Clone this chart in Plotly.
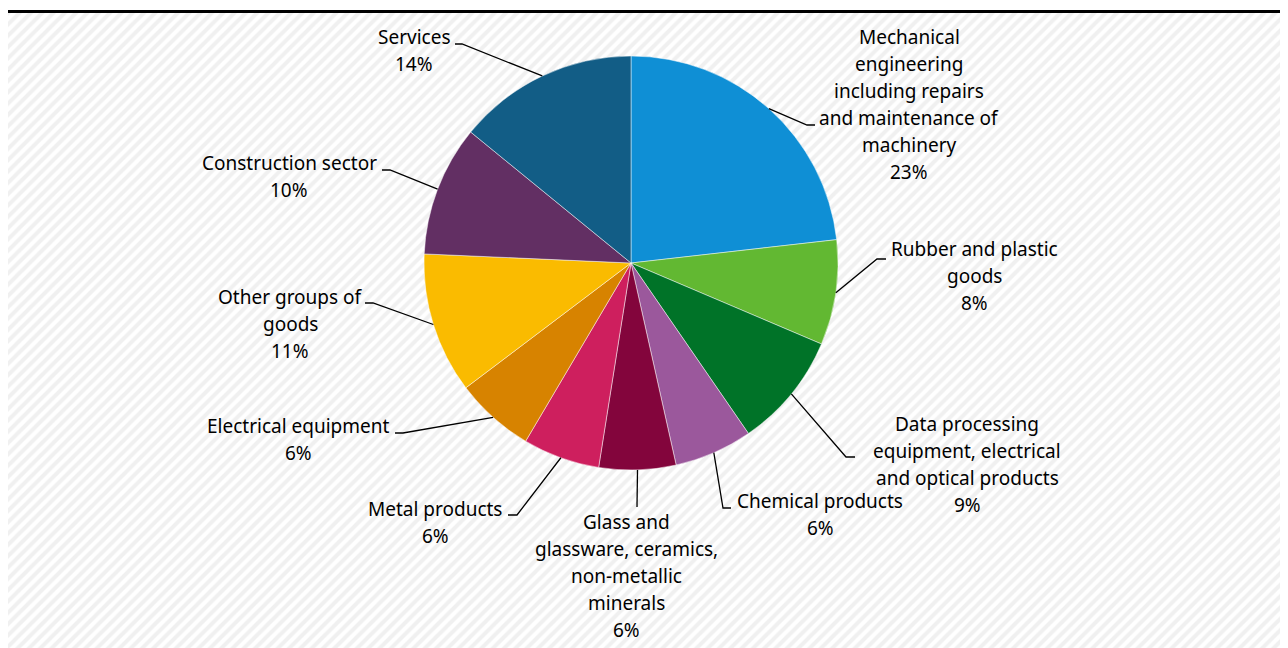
import math
import plotly.graph_objects as go

# ---------------- data ----------------
categories = [
    ["Mechanical", "engineering", "including repairs", "and maintenance of", "machinery"],
    ["Rubber and plastic", "goods"],
    ["Data processing", "equipment, electrical", "and optical products"],
    ["Chemical products"],
    ["Glass and", "glassware, ceramics,", "non-metallic", "minerals"],
    ["Metal products"],
    ["Electrical equipment"],
    ["Other groups of", "goods"],
    ["Construction sector"],
    ["Services"],
]
shares = [23.2, 8.2, 9.0, 6.1, 6.0, 6.0, 6.2, 11.0, 10.2, 14.1]
colors = ["#0f8fd5", "#62b832", "#007328", "#9b589c", "#83053c",
          "#ce1f5e", "#d78300", "#fabb00", "#622f63", "#125d86"]

# ---------------- layout constants (screen pixels) ----------------
OFF = 8                     # page body margin
W, H = 1280, 640            # figure size
CX, CY, R = 631, 263, 207   # pie centre / radius on screen
FONT = "Noto Sans"
FS = 19
LINE = 27                   # label line spacing

# label layout: (elbow_x, elbow_y, end_x, end_y, text_center_x, first_line_center_y)
label_layout = [
    (807, 125, 815, 125, 909, 37),
    (877, 259, 886, 259, 974, 249),
    (846, 457, 855, 457, 967, 424),
    (723, 508, 731, 508, 820, 501),
    (637, 507, 637, 507, 626, 522),
    (517, 515, 508, 515, 435, 509),
    (403, 433, 395, 433, 298, 426),
    (373, 303, 365, 303, 290, 297),
    (390, 170, 382, 170, 289, 163),
    (462, 44, 455, 44, 414, 37),
]


def px(x):
    return (x - OFF) / W


def py(y):
    return 1 - (y - OFF) / H


fig = go.Figure()

# hatched background panel
fig.add_trace(go.Bar(
    x=[0], y=[1], width=[1],
    marker=dict(color="white", line=dict(width=0),
                pattern=dict(shape="/", size=8, solidity=0.5,
                             fgcolor="#e2e2e2", bgcolor="white")),
    hoverinfo="skip", showlegend=False,
))

fig.add_trace(go.Pie(
    values=shares,
    labels=[" ".join(c) for c in categories],
    marker=dict(colors=colors, line=dict(color="rgba(255,255,255,0.6)", width=0.8)),
    sort=False, direction="clockwise", rotation=0,
    textinfo="none", hoverinfo="label+percent", showlegend=False,
    domain=dict(x=[px(CX - R), px(CX + R)], y=[py(CY + R), py(CY - R)]),
))

total = sum(shares)
cum = 0.0
shapes = []
annotations = []
for lines, v, lay in zip(categories, shares, label_layout):
    theta = 2 * math.pi * (cum + v / 2) / total
    cum += v
    ax = CX + R * math.sin(theta)
    ay = CY - R * math.cos(theta)
    ex, ey, tx, ty, cxl, cyl = lay
    path = f"M{px(ax)},{py(ay)} L{px(ex)},{py(ey)} L{px(tx)},{py(ty)}"
    shapes.append(dict(type="path", xref="paper", yref="paper", path=path,
                       line=dict(color="black", width=1.3), layer="above"))
    pct = round(100 * v / total)
    for i, t in enumerate(lines + [f"{pct}%"]):
        annotations.append(dict(
            x=px(cxl), y=py(cyl + i * LINE), xref="paper", yref="paper",
            text=t, showarrow=False, xanchor="center", yanchor="middle",
            font=dict(family=FONT, size=FS, color="black"),
        ))

# top rule
shapes.append(dict(type="line", xref="paper", yref="paper",
                   x0=0, x1=1, y0=py(11.5), y1=py(11.5),
                   line=dict(color="black", width=3), layer="above"))

fig.update_layout(
    width=W, height=H,
    margin=dict(l=0, r=0, t=0, b=0),
    paper_bgcolor="white", plot_bgcolor="white",
    xaxis=dict(domain=[0, 1], range=[-0.5, 0.5], visible=False, fixedrange=True),
    yaxis=dict(domain=[0, py(13)], range=[0, 1], visible=False, fixedrange=True),
    bargap=0,
    shapes=shapes,
    annotations=annotations,
    showlegend=False,
)

fig.write_html("out.html")
